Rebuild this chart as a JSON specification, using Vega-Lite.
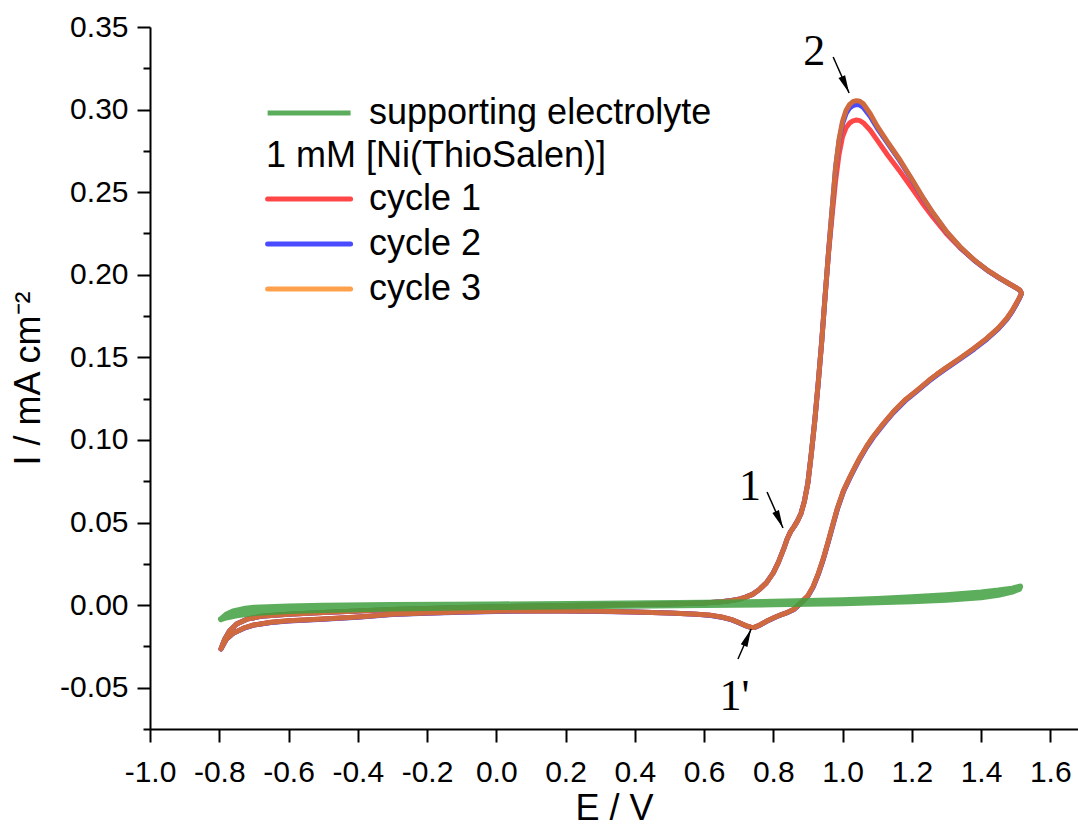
{
  "$schema": "https://vega.github.io/schema/vega-lite/v6.json",
  "width": 928,
  "height": 702,
  "autosize": {"type": "none"},
  "padding": {"left": 150, "top": 27, "right": 0, "bottom": 101},
  "background": "white",
  "config": {
    "view": {"stroke": null},
    "font": "Liberation Sans",
    "axis": {
      "grid": false,
      "domainColor": "black",
      "domainWidth": 2,
      "tickColor": "black",
      "tickWidth": 2,
      "labelFont": "Liberation Sans",
      "labelFontSize": 30,
      "labelColor": "black",
      "labelFlush": false,
      "labelOverlap": false,
      "titleFont": "Liberation Sans",
      "titleFontSize": 36,
      "titleFontWeight": "normal",
      "titleColor": "black"
    },
    "legend": {
      "labelFont": "Liberation Sans",
      "labelFontSize": 36,
      "labelColor": "black",
      "titleFont": "Liberation Sans",
      "titleFontSize": 36,
      "titleFontWeight": "normal",
      "titleColor": "black",
      "symbolType": "M-1.58,0H6.42",
      "symbolSize": 430,
      "symbolStrokeWidth": 5,
      "labelOffset": 67,
      "rowPadding": 8,
      "titlePadding": 6,
      "labelLimit": 600,
      "titleLimit": 600
    }
  },
  "datasets": {
    "cyc": [
      {"s":"cycle 1","i":0,"E":-0.795,"I":-0.0265},{"s":"cycle 1","i":1,"E":-0.785,"I":-0.021},{"s":"cycle 1","i":2,"E":-0.77,"I":-0.0155},{"s":"cycle 1","i":3,"E":-0.75,"I":-0.0115},{"s":"cycle 1","i":4,"E":-0.72,"I":-0.0085},{"s":"cycle 1","i":5,"E":-0.68,"I":-0.0068},{"s":"cycle 1","i":6,"E":-0.6,"I":-0.0055},{"s":"cycle 1","i":7,"E":-0.5,"I":-0.0045},{"s":"cycle 1","i":8,"E":-0.4,"I":-0.0035},{"s":"cycle 1","i":9,"E":-0.3,"I":-0.0027},{"s":"cycle 1","i":10,"E":-0.2,"I":-0.002},{"s":"cycle 1","i":11,"E":-0.1,"I":-0.0014},{"s":"cycle 1","i":12,"E":0.0,"I":-0.001},{"s":"cycle 1","i":13,"E":0.1,"I":-0.0006},{"s":"cycle 1","i":14,"E":0.2,"I":-0.0003},{"s":"cycle 1","i":15,"E":0.3,"I":0.0},{"s":"cycle 1","i":16,"E":0.4,"I":0.0003},{"s":"cycle 1","i":17,"E":0.5,"I":0.0007},{"s":"cycle 1","i":18,"E":0.6,"I":0.0013},{"s":"cycle 1","i":19,"E":0.65,"I":0.002},{"s":"cycle 1","i":20,"E":0.68,"I":0.0028},{"s":"cycle 1","i":21,"E":0.7,"I":0.0035},{"s":"cycle 1","i":22,"E":0.72,"I":0.0048},{"s":"cycle 1","i":23,"E":0.74,"I":0.0065},{"s":"cycle 1","i":24,"E":0.76,"I":0.0095},{"s":"cycle 1","i":25,"E":0.78,"I":0.0135},{"s":"cycle 1","i":26,"E":0.8,"I":0.0195},{"s":"cycle 1","i":27,"E":0.815,"I":0.026},{"s":"cycle 1","i":28,"E":0.83,"I":0.034},{"s":"cycle 1","i":29,"E":0.84,"I":0.04},{"s":"cycle 1","i":30,"E":0.85,"I":0.0445},{"s":"cycle 1","i":31,"E":0.86,"I":0.0475},{"s":"cycle 1","i":32,"E":0.87,"I":0.051},{"s":"cycle 1","i":33,"E":0.88,"I":0.0555},{"s":"cycle 1","i":34,"E":0.89,"I":0.063},{"s":"cycle 1","i":35,"E":0.9,"I":0.074},{"s":"cycle 1","i":36,"E":0.91,"I":0.092},{"s":"cycle 1","i":37,"E":0.92,"I":0.112},{"s":"cycle 1","i":38,"E":0.93,"I":0.135},{"s":"cycle 1","i":39,"E":0.94,"I":0.16},{"s":"cycle 1","i":40,"E":0.95,"I":0.188},{"s":"cycle 1","i":41,"E":0.96,"I":0.214},{"s":"cycle 1","i":42,"E":0.97,"I":0.236},{"s":"cycle 1","i":43,"E":0.98,"I":0.257},{"s":"cycle 1","i":44,"E":0.99,"I":0.273},{"s":"cycle 1","i":45,"E":1.0,"I":0.2835},{"s":"cycle 1","i":46,"E":1.01,"I":0.289},{"s":"cycle 1","i":47,"E":1.02,"I":0.2918},{"s":"cycle 1","i":48,"E":1.03,"I":0.2932},{"s":"cycle 1","i":49,"E":1.04,"I":0.2937},{"s":"cycle 1","i":50,"E":1.05,"I":0.2933},{"s":"cycle 1","i":51,"E":1.06,"I":0.292},{"s":"cycle 1","i":52,"E":1.08,"I":0.2875},{"s":"cycle 1","i":53,"E":1.1,"I":0.2815},{"s":"cycle 1","i":54,"E":1.13,"I":0.2725},{"s":"cycle 1","i":55,"E":1.166,"I":0.2625},{"s":"cycle 1","i":56,"E":1.2,"I":0.2525},{"s":"cycle 1","i":57,"E":1.23,"I":0.2435},{"s":"cycle 1","i":58,"E":1.26,"I":0.2352},{"s":"cycle 1","i":59,"E":1.3,"I":0.2248},{"s":"cycle 1","i":60,"E":1.34,"I":0.2162},{"s":"cycle 1","i":61,"E":1.38,"I":0.2088},{"s":"cycle 1","i":62,"E":1.42,"I":0.2025},{"s":"cycle 1","i":63,"E":1.455,"I":0.1978},{"s":"cycle 1","i":64,"E":1.48,"I":0.1947},{"s":"cycle 1","i":65,"E":1.5,"I":0.1923},{"s":"cycle 1","i":66,"E":1.512,"I":0.1907},{"s":"cycle 1","i":67,"E":1.517,"I":0.1888},{"s":"cycle 1","i":68,"E":1.511,"I":0.1862},{"s":"cycle 1","i":69,"E":1.503,"I":0.183},{"s":"cycle 1","i":70,"E":1.49,"I":0.1782},{"s":"cycle 1","i":71,"E":1.4746,"I":0.1735},{"s":"cycle 1","i":72,"E":1.45,"I":0.1677},{"s":"cycle 1","i":73,"E":1.4168,"I":0.1615},{"s":"cycle 1","i":74,"E":1.38,"I":0.1555},{"s":"cycle 1","i":75,"E":1.3397,"I":0.1495},{"s":"cycle 1","i":76,"E":1.3,"I":0.1438},{"s":"cycle 1","i":77,"E":1.2723,"I":0.1397},{"s":"cycle 1","i":78,"E":1.25,"I":0.1361},{"s":"cycle 1","i":79,"E":1.2145,"I":0.1299},{"s":"cycle 1","i":80,"E":1.18,"I":0.124},{"s":"cycle 1","i":81,"E":1.147,"I":0.117},{"s":"cycle 1","i":82,"E":1.12,"I":0.1104},{"s":"cycle 1","i":83,"E":1.089,"I":0.1021},{"s":"cycle 1","i":84,"E":1.07,"I":0.0962},{"s":"cycle 1","i":85,"E":1.051,"I":0.0895},{"s":"cycle 1","i":86,"E":1.035,"I":0.0832},{"s":"cycle 1","i":87,"E":1.022,"I":0.0778},{"s":"cycle 1","i":88,"E":1.0026,"I":0.0692},{"s":"cycle 1","i":89,"E":0.985,"I":0.0585},{"s":"cycle 1","i":90,"E":0.97,"I":0.0472},{"s":"cycle 1","i":91,"E":0.96,"I":0.0395},{"s":"cycle 1","i":92,"E":0.945,"I":0.0285},{"s":"cycle 1","i":93,"E":0.93,"I":0.019},{"s":"cycle 1","i":94,"E":0.915,"I":0.0112},{"s":"cycle 1","i":95,"E":0.9,"I":0.0057},{"s":"cycle 1","i":96,"E":0.88,"I":0.0015},{"s":"cycle 1","i":97,"E":0.86,"I":-0.0025},{"s":"cycle 1","i":98,"E":0.84,"I":-0.0045},{"s":"cycle 1","i":99,"E":0.82,"I":-0.006},{"s":"cycle 1","i":100,"E":0.8,"I":-0.0078},{"s":"cycle 1","i":101,"E":0.78,"I":-0.0098},{"s":"cycle 1","i":102,"E":0.76,"I":-0.0122},{"s":"cycle 1","i":103,"E":0.745,"I":-0.0135},{"s":"cycle 1","i":104,"E":0.735,"I":-0.0134},{"s":"cycle 1","i":105,"E":0.72,"I":-0.0124},{"s":"cycle 1","i":106,"E":0.7,"I":-0.0105},{"s":"cycle 1","i":107,"E":0.68,"I":-0.0088},{"s":"cycle 1","i":108,"E":0.65,"I":-0.0072},{"s":"cycle 1","i":109,"E":0.62,"I":-0.0062},{"s":"cycle 1","i":110,"E":0.58,"I":-0.0055},{"s":"cycle 1","i":111,"E":0.5,"I":-0.0047},{"s":"cycle 1","i":112,"E":0.4,"I":-0.0041},{"s":"cycle 1","i":113,"E":0.3,"I":-0.0037},{"s":"cycle 1","i":114,"E":0.2,"I":-0.0035},{"s":"cycle 1","i":115,"E":0.1,"I":-0.0035},{"s":"cycle 1","i":116,"E":0.0,"I":-0.0037},{"s":"cycle 1","i":117,"E":-0.1,"I":-0.0042},{"s":"cycle 1","i":118,"E":-0.2,"I":-0.0048},{"s":"cycle 1","i":119,"E":-0.3,"I":-0.0056},{"s":"cycle 1","i":120,"E":-0.4,"I":-0.0072},{"s":"cycle 1","i":121,"E":-0.5,"I":-0.0084},{"s":"cycle 1","i":122,"E":-0.6,"I":-0.0095},{"s":"cycle 1","i":123,"E":-0.65,"I":-0.0104},{"s":"cycle 1","i":124,"E":-0.7,"I":-0.012},{"s":"cycle 1","i":125,"E":-0.73,"I":-0.014},{"s":"cycle 1","i":126,"E":-0.76,"I":-0.017},{"s":"cycle 1","i":127,"E":-0.78,"I":-0.0207},{"s":"cycle 1","i":128,"E":-0.795,"I":-0.0265},

      {"s":"cycle 2","i":0,"E":-0.795,"I":-0.0265},{"s":"cycle 2","i":1,"E":-0.785,"I":-0.021},{"s":"cycle 2","i":2,"E":-0.77,"I":-0.0155},{"s":"cycle 2","i":3,"E":-0.75,"I":-0.0115},{"s":"cycle 2","i":4,"E":-0.72,"I":-0.0085},{"s":"cycle 2","i":5,"E":-0.68,"I":-0.0068},{"s":"cycle 2","i":6,"E":-0.6,"I":-0.0055},{"s":"cycle 2","i":7,"E":-0.5,"I":-0.0045},{"s":"cycle 2","i":8,"E":-0.4,"I":-0.0035},{"s":"cycle 2","i":9,"E":-0.3,"I":-0.0027},{"s":"cycle 2","i":10,"E":-0.2,"I":-0.002},{"s":"cycle 2","i":11,"E":-0.1,"I":-0.0014},{"s":"cycle 2","i":12,"E":0.0,"I":-0.001},{"s":"cycle 2","i":13,"E":0.1,"I":-0.0006},{"s":"cycle 2","i":14,"E":0.2,"I":-0.0003},{"s":"cycle 2","i":15,"E":0.3,"I":0.0},{"s":"cycle 2","i":16,"E":0.4,"I":0.0003},{"s":"cycle 2","i":17,"E":0.5,"I":0.0007},{"s":"cycle 2","i":18,"E":0.6,"I":0.0013},{"s":"cycle 2","i":19,"E":0.65,"I":0.002},{"s":"cycle 2","i":20,"E":0.68,"I":0.0028},{"s":"cycle 2","i":21,"E":0.7,"I":0.0035},{"s":"cycle 2","i":22,"E":0.72,"I":0.0048},{"s":"cycle 2","i":23,"E":0.74,"I":0.0065},{"s":"cycle 2","i":24,"E":0.76,"I":0.0095},{"s":"cycle 2","i":25,"E":0.78,"I":0.0135},{"s":"cycle 2","i":26,"E":0.8,"I":0.0195},{"s":"cycle 2","i":27,"E":0.815,"I":0.026},{"s":"cycle 2","i":28,"E":0.83,"I":0.034},{"s":"cycle 2","i":29,"E":0.84,"I":0.04},{"s":"cycle 2","i":30,"E":0.85,"I":0.0445},{"s":"cycle 2","i":31,"E":0.86,"I":0.0475},{"s":"cycle 2","i":32,"E":0.87,"I":0.051},{"s":"cycle 2","i":33,"E":0.88,"I":0.0555},{"s":"cycle 2","i":34,"E":0.89,"I":0.063},{"s":"cycle 2","i":35,"E":0.9,"I":0.074},{"s":"cycle 2","i":36,"E":0.91,"I":0.092},{"s":"cycle 2","i":37,"E":0.92,"I":0.112},{"s":"cycle 2","i":38,"E":0.93,"I":0.135},{"s":"cycle 2","i":39,"E":0.94,"I":0.16},{"s":"cycle 2","i":40,"E":0.95,"I":0.188},{"s":"cycle 2","i":41,"E":0.96,"I":0.215},{"s":"cycle 2","i":42,"E":0.97,"I":0.24},{"s":"cycle 2","i":43,"E":0.98,"I":0.265},{"s":"cycle 2","i":44,"E":0.99,"I":0.281},{"s":"cycle 2","i":45,"E":1.0,"I":0.2915},{"s":"cycle 2","i":46,"E":1.01,"I":0.2975},{"s":"cycle 2","i":47,"E":1.02,"I":0.3008},{"s":"cycle 2","i":48,"E":1.03,"I":0.3024},{"s":"cycle 2","i":49,"E":1.04,"I":0.303},{"s":"cycle 2","i":50,"E":1.05,"I":0.3027},{"s":"cycle 2","i":51,"E":1.06,"I":0.3013},{"s":"cycle 2","i":52,"E":1.08,"I":0.2958},{"s":"cycle 2","i":53,"E":1.1,"I":0.2888},{"s":"cycle 2","i":54,"E":1.13,"I":0.2797},{"s":"cycle 2","i":55,"E":1.166,"I":0.2688},{"s":"cycle 2","i":56,"E":1.2,"I":0.2575},{"s":"cycle 2","i":57,"E":1.23,"I":0.2471},{"s":"cycle 2","i":58,"E":1.26,"I":0.2375},{"s":"cycle 2","i":59,"E":1.3,"I":0.226},{"s":"cycle 2","i":60,"E":1.34,"I":0.2166},{"s":"cycle 2","i":61,"E":1.38,"I":0.2088},{"s":"cycle 2","i":62,"E":1.42,"I":0.2024},{"s":"cycle 2","i":63,"E":1.455,"I":0.1977},{"s":"cycle 2","i":64,"E":1.48,"I":0.1946},{"s":"cycle 2","i":65,"E":1.5,"I":0.1922},{"s":"cycle 2","i":66,"E":1.512,"I":0.1906},{"s":"cycle 2","i":67,"E":1.517,"I":0.1886},{"s":"cycle 2","i":68,"E":1.511,"I":0.1857},{"s":"cycle 2","i":69,"E":1.503,"I":0.1825},{"s":"cycle 2","i":70,"E":1.49,"I":0.1777},{"s":"cycle 2","i":71,"E":1.4746,"I":0.173},{"s":"cycle 2","i":72,"E":1.45,"I":0.1672},{"s":"cycle 2","i":73,"E":1.4168,"I":0.161},{"s":"cycle 2","i":74,"E":1.38,"I":0.155},{"s":"cycle 2","i":75,"E":1.3397,"I":0.149},{"s":"cycle 2","i":76,"E":1.3,"I":0.1433},{"s":"cycle 2","i":77,"E":1.2723,"I":0.1392},{"s":"cycle 2","i":78,"E":1.25,"I":0.1356},{"s":"cycle 2","i":79,"E":1.2145,"I":0.1294},{"s":"cycle 2","i":80,"E":1.18,"I":0.1235},{"s":"cycle 2","i":81,"E":1.147,"I":0.1165},{"s":"cycle 2","i":82,"E":1.12,"I":0.1099},{"s":"cycle 2","i":83,"E":1.089,"I":0.1016},{"s":"cycle 2","i":84,"E":1.07,"I":0.0957},{"s":"cycle 2","i":85,"E":1.051,"I":0.089},{"s":"cycle 2","i":86,"E":1.035,"I":0.0827},{"s":"cycle 2","i":87,"E":1.022,"I":0.0773},{"s":"cycle 2","i":88,"E":1.0026,"I":0.0687},{"s":"cycle 2","i":89,"E":0.985,"I":0.058},{"s":"cycle 2","i":90,"E":0.97,"I":0.0467},{"s":"cycle 2","i":91,"E":0.96,"I":0.039},{"s":"cycle 2","i":92,"E":0.945,"I":0.028},{"s":"cycle 2","i":93,"E":0.93,"I":0.0186},{"s":"cycle 2","i":94,"E":0.915,"I":0.0108},{"s":"cycle 2","i":95,"E":0.9,"I":0.0054},{"s":"cycle 2","i":96,"E":0.88,"I":0.0012},{"s":"cycle 2","i":97,"E":0.86,"I":-0.0026},{"s":"cycle 2","i":98,"E":0.84,"I":-0.0046},{"s":"cycle 2","i":99,"E":0.82,"I":-0.0061},{"s":"cycle 2","i":100,"E":0.8,"I":-0.0079},{"s":"cycle 2","i":101,"E":0.78,"I":-0.0099},{"s":"cycle 2","i":102,"E":0.76,"I":-0.0123},{"s":"cycle 2","i":103,"E":0.745,"I":-0.0136},{"s":"cycle 2","i":104,"E":0.735,"I":-0.0135},{"s":"cycle 2","i":105,"E":0.72,"I":-0.0125},{"s":"cycle 2","i":106,"E":0.7,"I":-0.0106},{"s":"cycle 2","i":107,"E":0.68,"I":-0.0089},{"s":"cycle 2","i":108,"E":0.65,"I":-0.0073},{"s":"cycle 2","i":109,"E":0.62,"I":-0.0063},{"s":"cycle 2","i":110,"E":0.58,"I":-0.0056},{"s":"cycle 2","i":111,"E":0.5,"I":-0.0048},{"s":"cycle 2","i":112,"E":0.4,"I":-0.0042},{"s":"cycle 2","i":113,"E":0.3,"I":-0.0038},{"s":"cycle 2","i":114,"E":0.2,"I":-0.0036},{"s":"cycle 2","i":115,"E":0.1,"I":-0.0036},{"s":"cycle 2","i":116,"E":0.0,"I":-0.0038},{"s":"cycle 2","i":117,"E":-0.1,"I":-0.0043},{"s":"cycle 2","i":118,"E":-0.2,"I":-0.0049},{"s":"cycle 2","i":119,"E":-0.3,"I":-0.0057},{"s":"cycle 2","i":120,"E":-0.4,"I":-0.0073},{"s":"cycle 2","i":121,"E":-0.5,"I":-0.0085},{"s":"cycle 2","i":122,"E":-0.6,"I":-0.0096},{"s":"cycle 2","i":123,"E":-0.65,"I":-0.0105},{"s":"cycle 2","i":124,"E":-0.7,"I":-0.0121},{"s":"cycle 2","i":125,"E":-0.73,"I":-0.0141},{"s":"cycle 2","i":126,"E":-0.76,"I":-0.0171},{"s":"cycle 2","i":127,"E":-0.78,"I":-0.0208},{"s":"cycle 2","i":128,"E":-0.795,"I":-0.0266},

      {"s":"cycle 3","i":0,"E":-0.795,"I":-0.0265},{"s":"cycle 3","i":1,"E":-0.785,"I":-0.021},{"s":"cycle 3","i":2,"E":-0.77,"I":-0.0155},{"s":"cycle 3","i":3,"E":-0.75,"I":-0.0115},{"s":"cycle 3","i":4,"E":-0.72,"I":-0.0085},{"s":"cycle 3","i":5,"E":-0.68,"I":-0.0068},{"s":"cycle 3","i":6,"E":-0.6,"I":-0.0055},{"s":"cycle 3","i":7,"E":-0.5,"I":-0.0045},{"s":"cycle 3","i":8,"E":-0.4,"I":-0.0035},{"s":"cycle 3","i":9,"E":-0.3,"I":-0.0027},{"s":"cycle 3","i":10,"E":-0.2,"I":-0.002},{"s":"cycle 3","i":11,"E":-0.1,"I":-0.0014},{"s":"cycle 3","i":12,"E":0.0,"I":-0.001},{"s":"cycle 3","i":13,"E":0.1,"I":-0.0006},{"s":"cycle 3","i":14,"E":0.2,"I":-0.0003},{"s":"cycle 3","i":15,"E":0.3,"I":0.0},{"s":"cycle 3","i":16,"E":0.4,"I":0.0003},{"s":"cycle 3","i":17,"E":0.5,"I":0.0007},{"s":"cycle 3","i":18,"E":0.6,"I":0.0013},{"s":"cycle 3","i":19,"E":0.65,"I":0.002},{"s":"cycle 3","i":20,"E":0.68,"I":0.0028},{"s":"cycle 3","i":21,"E":0.7,"I":0.0035},{"s":"cycle 3","i":22,"E":0.72,"I":0.0048},{"s":"cycle 3","i":23,"E":0.74,"I":0.0065},{"s":"cycle 3","i":24,"E":0.76,"I":0.0095},{"s":"cycle 3","i":25,"E":0.78,"I":0.0135},{"s":"cycle 3","i":26,"E":0.8,"I":0.0195},{"s":"cycle 3","i":27,"E":0.815,"I":0.026},{"s":"cycle 3","i":28,"E":0.83,"I":0.034},{"s":"cycle 3","i":29,"E":0.84,"I":0.04},{"s":"cycle 3","i":30,"E":0.85,"I":0.0445},{"s":"cycle 3","i":31,"E":0.86,"I":0.0475},{"s":"cycle 3","i":32,"E":0.87,"I":0.051},{"s":"cycle 3","i":33,"E":0.88,"I":0.0555},{"s":"cycle 3","i":34,"E":0.89,"I":0.063},{"s":"cycle 3","i":35,"E":0.9,"I":0.074},{"s":"cycle 3","i":36,"E":0.91,"I":0.092},{"s":"cycle 3","i":37,"E":0.92,"I":0.112},{"s":"cycle 3","i":38,"E":0.93,"I":0.135},{"s":"cycle 3","i":39,"E":0.94,"I":0.16},{"s":"cycle 3","i":40,"E":0.95,"I":0.188},{"s":"cycle 3","i":41,"E":0.96,"I":0.215},{"s":"cycle 3","i":42,"E":0.97,"I":0.24},{"s":"cycle 3","i":43,"E":0.98,"I":0.265},{"s":"cycle 3","i":44,"E":0.99,"I":0.282},{"s":"cycle 3","i":45,"E":1.0,"I":0.293},{"s":"cycle 3","i":46,"E":1.01,"I":0.2995},{"s":"cycle 3","i":47,"E":1.02,"I":0.303},{"s":"cycle 3","i":48,"E":1.03,"I":0.3048},{"s":"cycle 3","i":49,"E":1.04,"I":0.3054},{"s":"cycle 3","i":50,"E":1.05,"I":0.305},{"s":"cycle 3","i":51,"E":1.06,"I":0.3035},{"s":"cycle 3","i":52,"E":1.08,"I":0.2975},{"s":"cycle 3","i":53,"E":1.1,"I":0.29},{"s":"cycle 3","i":54,"E":1.13,"I":0.2805},{"s":"cycle 3","i":55,"E":1.166,"I":0.2695},{"s":"cycle 3","i":56,"E":1.2,"I":0.258},{"s":"cycle 3","i":57,"E":1.23,"I":0.2475},{"s":"cycle 3","i":58,"E":1.26,"I":0.2378},{"s":"cycle 3","i":59,"E":1.3,"I":0.2262},{"s":"cycle 3","i":60,"E":1.34,"I":0.2168},{"s":"cycle 3","i":61,"E":1.38,"I":0.209},{"s":"cycle 3","i":62,"E":1.42,"I":0.2025},{"s":"cycle 3","i":63,"E":1.455,"I":0.1978},{"s":"cycle 3","i":64,"E":1.48,"I":0.1947},{"s":"cycle 3","i":65,"E":1.5,"I":0.1923},{"s":"cycle 3","i":66,"E":1.512,"I":0.1907},{"s":"cycle 3","i":67,"E":1.517,"I":0.1888},{"s":"cycle 3","i":68,"E":1.511,"I":0.1862},{"s":"cycle 3","i":69,"E":1.503,"I":0.183},{"s":"cycle 3","i":70,"E":1.49,"I":0.1782},{"s":"cycle 3","i":71,"E":1.4746,"I":0.1735},{"s":"cycle 3","i":72,"E":1.45,"I":0.1677},{"s":"cycle 3","i":73,"E":1.4168,"I":0.1615},{"s":"cycle 3","i":74,"E":1.38,"I":0.1555},{"s":"cycle 3","i":75,"E":1.3397,"I":0.1495},{"s":"cycle 3","i":76,"E":1.3,"I":0.1438},{"s":"cycle 3","i":77,"E":1.2723,"I":0.1397},{"s":"cycle 3","i":78,"E":1.25,"I":0.1361},{"s":"cycle 3","i":79,"E":1.2145,"I":0.1299},{"s":"cycle 3","i":80,"E":1.18,"I":0.124},{"s":"cycle 3","i":81,"E":1.147,"I":0.117},{"s":"cycle 3","i":82,"E":1.12,"I":0.1104},{"s":"cycle 3","i":83,"E":1.089,"I":0.1021},{"s":"cycle 3","i":84,"E":1.07,"I":0.0962},{"s":"cycle 3","i":85,"E":1.051,"I":0.0895},{"s":"cycle 3","i":86,"E":1.035,"I":0.0832},{"s":"cycle 3","i":87,"E":1.022,"I":0.0778},{"s":"cycle 3","i":88,"E":1.0026,"I":0.0692},{"s":"cycle 3","i":89,"E":0.985,"I":0.0585},{"s":"cycle 3","i":90,"E":0.97,"I":0.0472},{"s":"cycle 3","i":91,"E":0.96,"I":0.0395},{"s":"cycle 3","i":92,"E":0.945,"I":0.0285},{"s":"cycle 3","i":93,"E":0.93,"I":0.019},{"s":"cycle 3","i":94,"E":0.915,"I":0.0112},{"s":"cycle 3","i":95,"E":0.9,"I":0.0057},{"s":"cycle 3","i":96,"E":0.88,"I":0.0015},{"s":"cycle 3","i":97,"E":0.86,"I":-0.0025},{"s":"cycle 3","i":98,"E":0.84,"I":-0.0045},{"s":"cycle 3","i":99,"E":0.82,"I":-0.006},{"s":"cycle 3","i":100,"E":0.8,"I":-0.0078},{"s":"cycle 3","i":101,"E":0.78,"I":-0.0098},{"s":"cycle 3","i":102,"E":0.76,"I":-0.0122},{"s":"cycle 3","i":103,"E":0.745,"I":-0.0135},{"s":"cycle 3","i":104,"E":0.735,"I":-0.0134},{"s":"cycle 3","i":105,"E":0.72,"I":-0.0124},{"s":"cycle 3","i":106,"E":0.7,"I":-0.0105},{"s":"cycle 3","i":107,"E":0.68,"I":-0.0088},{"s":"cycle 3","i":108,"E":0.65,"I":-0.0072},{"s":"cycle 3","i":109,"E":0.62,"I":-0.0062},{"s":"cycle 3","i":110,"E":0.58,"I":-0.0055},{"s":"cycle 3","i":111,"E":0.5,"I":-0.0047},{"s":"cycle 3","i":112,"E":0.4,"I":-0.0041},{"s":"cycle 3","i":113,"E":0.3,"I":-0.0037},{"s":"cycle 3","i":114,"E":0.2,"I":-0.0035},{"s":"cycle 3","i":115,"E":0.1,"I":-0.0035},{"s":"cycle 3","i":116,"E":0.0,"I":-0.0037},{"s":"cycle 3","i":117,"E":-0.1,"I":-0.0042},{"s":"cycle 3","i":118,"E":-0.2,"I":-0.0048},{"s":"cycle 3","i":119,"E":-0.3,"I":-0.0056},{"s":"cycle 3","i":120,"E":-0.4,"I":-0.0072},{"s":"cycle 3","i":121,"E":-0.5,"I":-0.0084},{"s":"cycle 3","i":122,"E":-0.6,"I":-0.0095},{"s":"cycle 3","i":123,"E":-0.65,"I":-0.0104},{"s":"cycle 3","i":124,"E":-0.7,"I":-0.012},{"s":"cycle 3","i":125,"E":-0.73,"I":-0.014},{"s":"cycle 3","i":126,"E":-0.76,"I":-0.017},{"s":"cycle 3","i":127,"E":-0.78,"I":-0.0207},{"s":"cycle 3","i":128,"E":-0.795,"I":-0.0265}
    ],
    "leg": [
      {"s":"cycle 1","E":-0.795,"I":-0.0265},
      {"s":"cycle 2","E":-0.795,"I":-0.0265},
      {"s":"cycle 3","E":-0.795,"I":-0.0265}
    ],
    "sup": [
      {"s":"supporting electrolyte","i":0,"E":-0.795,"I":-0.0085},{"s":"supporting electrolyte","i":1,"E":-0.78,"I":-0.0058},{"s":"supporting electrolyte","i":2,"E":-0.76,"I":-0.0038},{"s":"supporting electrolyte","i":3,"E":-0.73,"I":-0.0024},{"s":"supporting electrolyte","i":4,"E":-0.7,"I":-0.0016},{"s":"supporting electrolyte","i":5,"E":-0.6,"I":-0.0008},{"s":"supporting electrolyte","i":6,"E":-0.5,"I":-0.0004},{"s":"supporting electrolyte","i":7,"E":-0.3,"I":0.0},{"s":"supporting electrolyte","i":8,"E":0.0,"I":0.0004},{"s":"supporting electrolyte","i":9,"E":0.3,"I":0.0008},{"s":"supporting electrolyte","i":10,"E":0.6,"I":0.0014},{"s":"supporting electrolyte","i":11,"E":0.8,"I":0.002},{"s":"supporting electrolyte","i":12,"E":1.0,"I":0.003},{"s":"supporting electrolyte","i":13,"E":1.1,"I":0.0037},{"s":"supporting electrolyte","i":14,"E":1.2,"I":0.0047},{"s":"supporting electrolyte","i":15,"E":1.3,"I":0.006},{"s":"supporting electrolyte","i":16,"E":1.4,"I":0.0077},{"s":"supporting electrolyte","i":17,"E":1.45,"I":0.0088},{"s":"supporting electrolyte","i":18,"E":1.49,"I":0.01},{"s":"supporting electrolyte","i":19,"E":1.513,"I":0.0112},{"s":"supporting electrolyte","i":20,"E":1.51,"I":0.0098},{"s":"supporting electrolyte","i":21,"E":1.49,"I":0.0082},{"s":"supporting electrolyte","i":22,"E":1.45,"I":0.0062},{"s":"supporting electrolyte","i":23,"E":1.4,"I":0.0048},{"s":"supporting electrolyte","i":24,"E":1.3,"I":0.0032},{"s":"supporting electrolyte","i":25,"E":1.2,"I":0.0023},{"s":"supporting electrolyte","i":26,"E":1.1,"I":0.0017},{"s":"supporting electrolyte","i":27,"E":1.0,"I":0.0012},{"s":"supporting electrolyte","i":28,"E":0.8,"I":0.0005},{"s":"supporting electrolyte","i":29,"E":0.6,"I":0.0},{"s":"supporting electrolyte","i":30,"E":0.3,"I":-0.0006},{"s":"supporting electrolyte","i":31,"E":0.0,"I":-0.0012},{"s":"supporting electrolyte","i":32,"E":-0.3,"I":-0.002},{"s":"supporting electrolyte","i":33,"E":-0.5,"I":-0.0029},{"s":"supporting electrolyte","i":34,"E":-0.6,"I":-0.0036},{"s":"supporting electrolyte","i":35,"E":-0.7,"I":-0.0048},{"s":"supporting electrolyte","i":36,"E":-0.75,"I":-0.0062},{"s":"supporting electrolyte","i":37,"E":-0.78,"I":-0.0075},{"s":"supporting electrolyte","i":38,"E":-0.795,"I":-0.0085}
    ],
    "ann": [
      {"t":"2","E":0.918,"I":0.327},
      {"t":"1","E":0.733,"I":0.0637},
      {"t":"1'","E":0.688,"I":-0.0634}
    ],
    "arr": [
      {"k":"a2","E":0.973,"I":0.3318,"E2":1.019,"I2":0.31},
      {"k":"a1","E":0.782,"I":0.0685,"E2":0.828,"I2":0.0467},
      {"k":"a1p","E":0.698,"I":-0.0326,"E2":0.736,"I2":-0.0145}
    ]
  },
  "resolve": {"scale": {"color": "independent"}, "legend": {"color": "independent"}},
  "layer": [
    {
      "data": {"name": "leg"},
      "mark": {"type": "line", "strokeWidth": 5, "strokeCap": "butt"},
      "encoding": {
        "x": {
          "field": "E", "type": "quantitative",
          "scale": {"domain": [-1.0, 1.68], "nice": false, "zero": false},
          "axis": {
            "title": "E / V",
            "values": [-1.0,-0.9,-0.8,-0.7,-0.6,-0.5,-0.4,-0.3,-0.2,-0.1,0.0,0.1,0.2,0.3,0.4,0.5,0.6,0.7,0.8,0.9,1.0,1.1,1.2,1.3,1.4,1.5,1.6],
            "labelExpr": "abs(round(datum.value*10)) % 2 == 0 ? (datum.value < -0.001 ? '-' : '') + format(abs(datum.value), '.1f') : ''",
            "tickSize": {"condition": {"test": "abs(round(datum.value*10)) % 2 == 0", "value": 13}, "value": 7},
            "labelPadding": 15,
            "titlePadding": 4
          }
        },
        "y": {
          "field": "I", "type": "quantitative",
          "scale": {"domain": [-0.075, 0.35], "nice": false, "zero": false},
          "axis": {
            "title": "I / mA cm⁻²",
            "values": [-0.075,-0.05,-0.025,0.0,0.025,0.05,0.075,0.1,0.125,0.15,0.175,0.2,0.225,0.25,0.275,0.3,0.325,0.35],
            "labelExpr": "abs(round(datum.value*40)) % 2 == 0 ? (datum.value < -0.001 ? '-' : '') + format(abs(datum.value), '.2f') : ''",
            "tickSize": {"condition": {"test": "abs(round(datum.value*40)) % 2 == 0", "value": 13}, "value": 7},
            "labelPadding": 9,
            "titlePadding": 12
          }
        },
        "color": {
          "field": "s", "type": "nominal",
          "scale": {"domain": ["cycle 1", "cycle 2", "cycle 3"], "range": ["#ff4747", "#4a4aff", "#ffa04d"]},
          "legend": {
            "title": "1 mM [Ni(ThioSalen)]",
            "orient": "none",
            "legendX": 116,
            "legendY": 112,
            "rowPadding": 9,
            "encode": {"symbols": {"update": {"strokeCap": {"value": "round"}}}}
          }
        }
      }
    },
    {
      "data": {"name": "cyc"},
      "mark": {"type": "line", "strokeWidth": 5, "strokeCap": "round", "strokeJoin": "round"},
      "encoding": {
        "x": {"field": "E", "type": "quantitative"},
        "y": {"field": "I", "type": "quantitative"},
        "color": {
          "field": "s", "type": "nominal",
          "scale": {"domain": ["cycle 1", "cycle 2", "cycle 3"], "range": ["#ff4747", "#4a4aff", "#cf6a3e"]},
          "legend": null
        },
        "order": {"field": "i", "type": "quantitative"}
      }
    },
    {
      "data": {"name": "sup"},
      "mark": {"type": "line", "strokeWidth": 6, "opacity": 0.85, "strokeCap": "round", "strokeJoin": "round"},
      "encoding": {
        "x": {"field": "E", "type": "quantitative"},
        "y": {"field": "I", "type": "quantitative"},
        "color": {
          "field": "s", "type": "nominal",
          "scale": {"domain": ["supporting electrolyte"], "range": ["#3f9f3f"]},
          "legend": {
            "title": null,
            "orient": "none",
            "legendX": 116,
            "legendY": 68,
            "encode": {"symbols": {"update": {"strokeCap": {"value": "round"}, "opacity": {"value": 0.95}}}}
          }
        },
        "order": {"field": "i", "type": "quantitative"}
      }
    },
    {
      "data": {"name": "arr"},
      "mark": {"type": "rule", "color": "black", "strokeWidth": 1.5},
      "encoding": {
        "x": {"field": "E", "type": "quantitative"},
        "y": {"field": "I", "type": "quantitative"},
        "x2": {"field": "E2"},
        "y2": {"field": "I2"}
      }
    },
    {
      "data": {"name": "arr"},
      "transform": [{"filter": "datum.k === 'a2' || datum.k === 'a1'"}],
      "mark": {"type": "point", "shape": "M0,0L-0.4,2L0.4,2Z", "size": 324, "filled": true, "color": "black", "opacity": 1, "strokeWidth": 0, "angle": 156},
      "encoding": {
        "x": {"field": "E2", "type": "quantitative"},
        "y": {"field": "I2", "type": "quantitative"}
      }
    },
    {
      "data": {"name": "arr"},
      "transform": [{"filter": "datum.k === 'a1p'"}],
      "mark": {"type": "point", "shape": "M0,0L-0.4,2L0.4,2Z", "size": 324, "filled": true, "color": "black", "opacity": 1, "strokeWidth": 0, "angle": 23},
      "encoding": {
        "x": {"field": "E2", "type": "quantitative"},
        "y": {"field": "I2", "type": "quantitative"}
      }
    },
    {
      "data": {"name": "ann"},
      "mark": {"type": "text", "font": "Liberation Serif", "fontSize": 44, "baseline": "alphabetic", "align": "center", "color": "black"},
      "encoding": {
        "x": {"field": "E", "type": "quantitative"},
        "y": {"field": "I", "type": "quantitative"},
        "text": {"field": "t"}
      }
    }
  ]
}
